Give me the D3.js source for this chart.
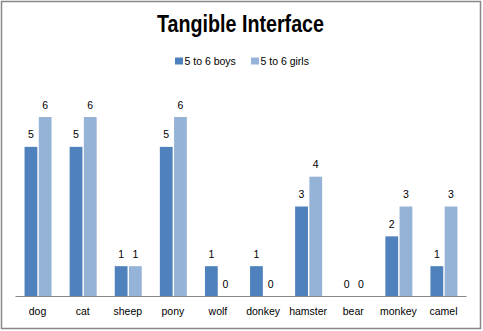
<!DOCTYPE html>
<html>
<head>
<meta charset="utf-8">
<script src="https://cdn.jsdelivr.net/npm/d3@7"></script>
<style>
  body { margin: 0; background: #fff; }
  svg { display: block; font-family: "Liberation Sans", Arial, sans-serif; }
</style>
</head>
<body>
<svg id="chart" width="483" height="331"></svg>
<script>
const categories = ["dog", "cat", "sheep", "pony", "wolf", "donkey", "hamster", "bear", "monkey", "camel"];
const seriesNames = ["5 to 6 boys", "5 to 6 girls"];
const boys = [5, 5, 1, 5, 1, 1, 3, 0, 2, 1];
const girls = [6, 6, 1, 6, 0, 0, 4, 0, 3, 3];
const colors = ["#4f81bd", "#95b3d7"];

const svg = d3.select("#chart");
const W = 483, H = 331;

// outer border
svg.append("rect")
  .attr("x", 1.5).attr("y", 1.5)
  .attr("width", W - 4).attr("height", H - 4)
  .attr("fill", "#fff").attr("stroke", "#878787").attr("stroke-width", 1.5);

// title
svg.append("text")
  .attr("x", 240.5).attr("y", 32)
  .attr("text-anchor", "middle")
  .attr("font-size", 23).attr("font-weight", "bold")
  .attr("textLength", 167).attr("lengthAdjust", "spacingAndGlyphs")
  .text("Tangible Interface");

// legend
const legendX = [175, 251];
seriesNames.forEach((name, i) => {
  svg.append("rect")
    .attr("x", legendX[i]).attr("y", 57.5)
    .attr("width", 8).attr("height", 7)
    .attr("fill", colors[i]);
  svg.append("text")
    .attr("x", legendX[i] + 9.5).attr("y", 64.5)
    .attr("font-size", 10.5)
    .text(name);
});

const x = d3.scaleBand().domain(categories).range([15, 466]);
const sub = d3.scaleBand().domain([0, 1]).range([0, 27]).paddingInner(0.1);
const y = d3.scaleLinear().domain([0, 7]).range([296, 87.2]);

const data = categories.map((c, i) => ({ cat: c, vals: [boys[i], girls[i]] }));

const groups = svg.append("g").selectAll("g")
  .data(data).enter().append("g")
  .attr("transform", d => `translate(${x(d.cat) + x.bandwidth() / 2 - 13},0)`);

groups.selectAll("rect")
  .data(d => d.vals.map((v, s) => ({ v, s })))
  .enter().append("rect")
  .attr("x", d => sub(d.s))
  .attr("width", sub.bandwidth())
  .attr("y", d => y(d.v))
  .attr("height", d => y(0) - y(d.v))
  .attr("fill", d => colors[d.s]);

groups.selectAll("text")
  .data(d => d.vals.map((v, s) => ({ v, s })))
  .enter().append("text")
  .attr("x", d => sub(d.s) + sub.bandwidth() / 2)
  .attr("y", d => y(d.v) - 8.5)
  .attr("text-anchor", "middle")
  .attr("font-size", 10.5)
  .text(d => d.v);

// x axis
const xAxis = svg.append("g")
  .attr("transform", "translate(0,296)")
  .call(d3.axisBottom(x).tickSize(0).tickPadding(12));
xAxis.select(".domain").attr("stroke", "#878787");
xAxis.selectAll("text")
  .attr("font-size", 10.5)
  .attr("font-family", "'Liberation Sans', Arial, sans-serif")
  .attr("fill", "#000");
</script>
</body>
</html>
